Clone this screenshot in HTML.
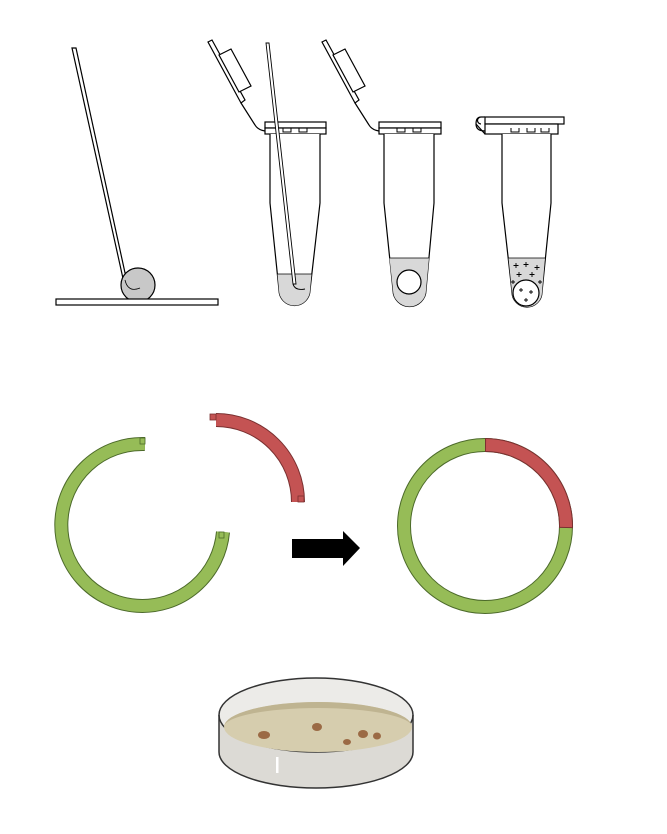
<!DOCTYPE html>
<html><head><meta charset="utf-8"><style>html,body{margin:0;padding:0;background:#fff}svg{display:block}</style></head><body>
<svg width="667" height="834" viewBox="0 0 667 834" xmlns="http://www.w3.org/2000/svg">
<defs>
<g id="lid">
  <polygon points="208,42 212,40 245,100 241,103" fill="#fff" stroke="#000" stroke-width="1.2"/>
  <polygon points="219,55 231,49 251,86 239,92" fill="#fff" stroke="#000" stroke-width="1.2"/>
  <path d="M241,103 L255,125 Q258,130 265,131" fill="none" stroke="#000" stroke-width="1.2"/>
</g>
</defs>
<g fill="none" stroke="#000" stroke-width="1.2">
  <polygon points="72,48 76,48 127,282 124,283" fill="#fff"/>
  <circle cx="138" cy="285" r="17" fill="#c8c8c8"/>
  <path d="M125,280 Q128,293 140,288" stroke-width="0.8"/>
  <rect x="56" y="299" width="162" height="6" fill="#fff"/>

  <use href="#lid"/>
  <rect x="265" y="122" width="61" height="6" fill="#fff"/>
  <rect x="265" y="128" width="61" height="6" fill="#fff"/>
  <path d="M270,134 V203 L279,290 A15.5,15.5 0 0 0 310,290 L320,203 V134" fill="#fff"/>
  <path d="M277.5,274 H311.5 L310,290 A15.5,15.5 0 0 1 279,290 Z" fill="#d8d8d8" stroke="none"/>
  <line x1="277.5" y1="274" x2="311.5" y2="274" stroke-width="0.7"/>
  <path d="M283,128 v4 h8 v-4 M299,128 v4 h8 v-4" stroke-width="1"/>
  <path d="M266,43 L269,43 L296,284 L293,284 Z" fill="#fff" stroke-width="0.9"/>
  <path d="M293,284 Q295,291 305,289" stroke-width="0.9"/>

  <use href="#lid" transform="translate(114,0)"/>
  <rect x="379" y="122" width="62" height="6" fill="#fff"/>
  <rect x="379" y="128" width="62" height="6" fill="#fff"/>
  <path d="M384,134 V203 L393,290 A16.5,16.5 0 0 0 426,290 L434,203 V134" fill="#fff"/>
  <path d="M389.5,258 H429 L426,290 A16.5,16.5 0 0 1 393,290 Z" fill="#d8d8d8" stroke="none"/>
  <line x1="389.5" y1="258" x2="429" y2="258" stroke-width="0.7"/>
  <circle cx="409" cy="282" r="12" fill="#fff"/>
  <path d="M397,128 v4 h8 v-4 M413,128 v4 h8 v-4" stroke-width="1"/>

  <rect x="485" y="117" width="79" height="7" fill="#fff"/>
  <path d="M485,117 H481 A3.5,3.5 0 0 0 481,124 M481,117 Q476,117 476,124 Q476,131 485,131" fill="#fff"/>
  <rect x="485" y="124" width="73" height="10" fill="#fff"/>
  <path d="M476,124 L485,134"/>
  <rect x="505" y="134" width="43" height="11" stroke-width="0.8"/>
  <path d="M502,134 V203 L512,292 A15,15 0 0 0 542,292 L551,203 V134" fill="#fff"/>
  <path d="M508.5,258 H545 L542,292 A15,15 0 0 1 512,292 Z" fill="#d8d8d8" stroke="none"/>
  <line x1="508.5" y1="258" x2="545" y2="258" stroke-width="0.7"/>
  <circle cx="526" cy="293" r="13" fill="#fff"/>
  <g stroke-width="0.9">
    <path d="M516,263v5M513.5,265.5h5 M526,262v5M523.5,264.5h5 M537,265v5M534.5,267.5h5 M519,272v5M516.5,274.5h5 M532,272v5M529.5,274.5h5 M513,280v4M511,282h4 M540,280v4M538,282h4 M521,288v4M519,290h4 M531,290v4M529,292h4 M526,298v4M524,300h4"/>
  </g>
  <path d="M511,128 v4 h8 v-4 M527,128 v4 h8 v-4 M541,128 v4 h8 v-4" stroke-width="1"/>
</g>

<g fill="none" stroke-width="12">
  <path d="M145,444 A81,81 0 1 0 223,532" stroke="#4c6a2a" stroke-width="14"/>
  <path d="M145,444 A81,81 0 1 0 223,532" stroke="#96bc57"/>
  <path d="M216,420 A82,82 0 0 1 298,502" stroke="#7a3030" stroke-width="14"/>
  <path d="M216,420 A82,82 0 0 1 298,502" stroke="#c45353"/>
  <circle cx="485" cy="526" r="81" stroke="#4c6a2a" stroke-width="14"/>
  <circle cx="485" cy="526" r="81" stroke="#96bc57"/>
  <path d="M485,445 A81,81 0 0 1 566,528" stroke="#7a3030" stroke-width="14"/>
  <path d="M486,445 A81,81 0 0 1 566,527" stroke="#c45353"/>
</g>
<g stroke-width="0.8">
  <rect x="140" y="438" width="5" height="6" fill="#96bc57" stroke="#4c6a2a"/>
  <rect x="219" y="532" width="5" height="6" fill="#96bc57" stroke="#4c6a2a"/>
  <rect x="210" y="414" width="6" height="6" fill="#c45353" stroke="#7a3030"/>
  <rect x="298" y="496" width="6" height="6" fill="#c45353" stroke="#7a3030"/>
</g>
<polygon points="292,539 343,539 343,531 360,548 343,566 343,558 292,558" fill="#000"/>

<g>
  <path d="M219,715 V752 A97,36 0 0 0 413,752 V715 Z" fill="#dcdad5"/>
  <ellipse cx="316" cy="715" rx="97" ry="37" fill="#ecebe8" stroke="#333" stroke-width="1.5"/>
  <ellipse cx="318" cy="727" rx="94" ry="25" fill="#d6cdae"/>
  <path d="M224,727 A94,25 0 0 1 412,727 A94,19 0 0 0 224,727Z" fill="#bfb491"/>
  <path d="M219,715 V752 A97,36 0 0 0 413,752 V715" fill="none" stroke="#333" stroke-width="1.5"/>
  <g fill="#9b6a45">
    <ellipse cx="264" cy="735" rx="6" ry="4"/>
    <ellipse cx="317" cy="727" rx="5" ry="4"/>
    <ellipse cx="363" cy="734" rx="5" ry="4"/>
    <ellipse cx="377" cy="736" rx="4" ry="3.5"/>
    <ellipse cx="347" cy="742" rx="4" ry="3"/>
  </g>
  <rect x="276" y="757" width="2.5" height="16" fill="#fff"/>
</g>
</svg>
</body></html>
